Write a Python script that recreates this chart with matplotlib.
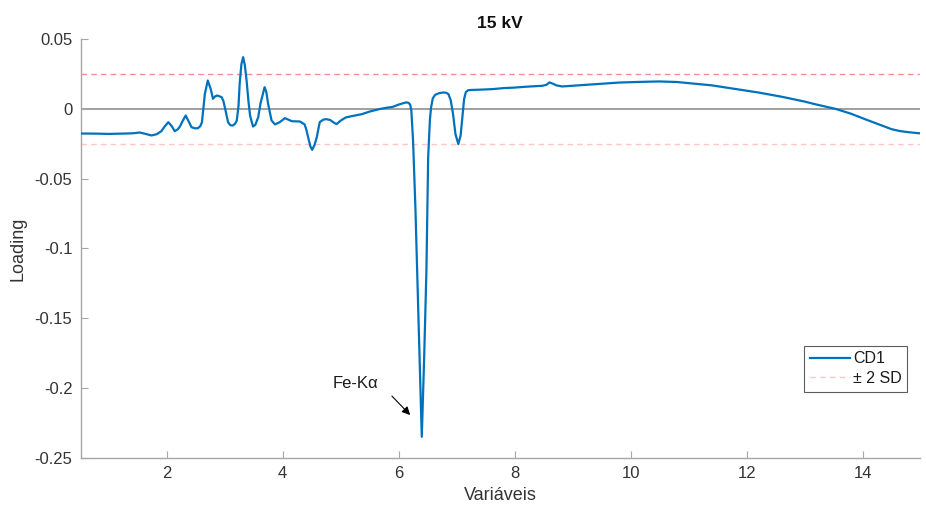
import matplotlib
matplotlib.use("Agg")
import matplotlib.pyplot as plt

plt.rcParams['font.family'] = ['Liberation Sans', 'DejaVu Sans']

# Data
energy = [0.52, 0.8, 1.0, 1.2, 1.4, 1.54, 1.64, 1.74, 1.83, 1.91, 1.97, 2.03, 2.09,
          2.14, 2.19, 2.23, 2.28, 2.33, 2.38, 2.43, 2.49, 2.54, 2.58, 2.61, 2.66,
          2.71, 2.76, 2.80, 2.84, 2.87, 2.91, 2.95, 2.98, 3.01, 3.06, 3.10, 3.14,
          3.18, 3.21, 3.24, 3.26, 3.29, 3.32, 3.35, 3.38, 3.41, 3.44, 3.49, 3.53,
          3.58, 3.62, 3.66, 3.69, 3.72, 3.75, 3.81, 3.87, 3.95, 4.04, 4.10, 4.16,
          4.30, 4.38, 4.41, 4.44, 4.48, 4.51, 4.55, 4.59, 4.64, 4.70, 4.75, 4.82,
          4.88, 4.93, 5.00, 5.09, 5.20, 5.37, 5.50, 5.67, 5.80, 5.90, 6.00, 6.08,
          6.13, 6.17, 6.20, 6.22, 6.25, 6.29, 6.32, 6.37, 6.40, 6.44, 6.48, 6.51,
          6.54, 6.56, 6.59, 6.63, 6.70, 6.77, 6.82, 6.86, 6.90, 6.94, 6.98, 7.03,
          7.07, 7.10, 7.13, 7.16, 7.20, 7.25, 7.40, 7.62, 7.80, 8.00, 8.19, 8.48,
          8.55, 8.60, 8.66, 8.72, 8.82, 9.00, 9.45, 9.80, 10.10, 10.49, 10.80,
          11.00, 11.40, 11.75, 12.2, 12.61, 13.0, 13.18, 13.53, 13.8, 14.04, 14.3,
          14.50, 14.65, 14.8, 14.99]
loading_cd1 = [-0.0177, -0.0178, -0.0180, -0.0178, -0.0176, -0.0170, -0.0180, -0.0191,
               -0.0182, -0.0160, -0.0125, -0.0096, -0.0125, -0.0160, -0.0148, -0.0127,
               -0.0085, -0.0048, -0.0090, -0.0132, -0.0140, -0.0139, -0.0125, -0.0096,
               0.0107, 0.0203, 0.0143, 0.0072, 0.0090, 0.0095, 0.0090, 0.0083, 0.0055,
               0.0000, -0.0096, -0.0118, -0.0120, -0.0108, -0.0084, 0.0020, 0.0179,
               0.0320, 0.0370, 0.0310, 0.0200, 0.0060, -0.0050, -0.0127, -0.0115,
               -0.0060, 0.0040, 0.0107, 0.0155, 0.0120, 0.0036, -0.0084, -0.0112,
               -0.0096, -0.0067, -0.0078, -0.0089, -0.0091, -0.0112, -0.0150, -0.0203,
               -0.0270, -0.0294, -0.0260, -0.0203, -0.0096, -0.0078, -0.0074, -0.0080,
               -0.0098, -0.0110, -0.0085, -0.0062, -0.0052, -0.0038, -0.0020, -0.0002,
               0.0008, 0.0014, 0.0030, 0.0040, 0.0046, 0.0043, 0.0030, -0.0014,
               -0.0230, -0.0707, -0.1160, -0.1920, -0.2350, -0.1800, -0.1160, -0.0349,
               -0.0080, 0.0009, 0.0075, 0.0100, 0.0112, 0.0117, 0.0115, 0.0105,
               0.0060, -0.0040, -0.0180, -0.0253, -0.0190, -0.0060, 0.0070, 0.0120,
               0.0133, 0.0135, 0.0137, 0.0141, 0.0148, 0.0152, 0.0158, 0.0165, 0.0172,
               0.0189, 0.0180, 0.0168, 0.0160, 0.0165, 0.0177, 0.0188, 0.0192, 0.0196,
               0.0192, 0.0184, 0.0168, 0.0146, 0.0117, 0.0086, 0.0052, 0.0033, 0.0000,
               -0.0035, -0.0074, -0.0115, -0.0146, -0.0160, -0.0168, -0.0176]
sd_limit = 0.025
x_ticks = [2, 4, 6, 8, 10, 12, 14]
y_ticks = [-0.25, -0.2, -0.15, -0.1, -0.05, 0, 0.05]
y_tick_labels = ['-0.25', '-0.2', '-0.15', '-0.1', '-0.05', '0', '0.05']

fig = plt.figure(figsize=(9.26, 5.12), dpi=100)
ax = fig.add_axes([0.0872, 0.106, 0.9063, 0.8178])

ax.axhline(0, color='#999999', linewidth=1.3, zorder=1)
ax.axhline(sd_limit, color='#f29090', linestyle=(0, (4, 3)), linewidth=1.0, zorder=1)
ax.plot(energy, loading_cd1, color='#0072BD', linewidth=1.6, label='CD1', zorder=3,
        solid_joinstyle='round')
ax.axhline(-sd_limit, color='#ffc4c4', linestyle=(0, (4, 3)), linewidth=1.0,
           zorder=1, label='± 2 SD')

ax.set_xlim(min(energy), max(energy))
ax.set_ylim(-0.25, 0.05)
ax.set_xticks(x_ticks)
ax.set_yticks(y_ticks)
ax.set_yticklabels(y_tick_labels)

for s in ['top', 'right']:
    ax.spines[s].set_visible(False)
for s in ['left', 'bottom']:
    ax.spines[s].set_color('#a6a6a6')
    ax.spines[s].set_linewidth(1.0)
ax.tick_params(direction='in', length=5, width=0.8, color='#a6a6a6',
               labelsize=12, labelcolor='#333333', pad=6)

ax.set_title('15 kV', fontsize=12.5, fontweight='bold', color='#111111', pad=8)
ax.set_xlabel('Variáveis', fontsize=13, color='#333333', labelpad=4)
ax.set_ylabel('Loading', fontsize=13, color='#333333', labelpad=6)

ax.text(5.25, -0.197, 'Fe-Kα', fontsize=12, color='#1a1a1a', ha='center', va='center')
ax.annotate('', xy=(6.2, -0.2194), xytext=(5.885, -0.2058),
            arrowprops=dict(arrowstyle='-|>', color='black', lw=0.8,
                            mutation_scale=12, shrinkA=0, shrinkB=0))

leg = ax.legend(loc='lower right', bbox_to_anchor=(0.985, 0.158), fontsize=11.5,
                frameon=True, fancybox=False, handlelength=2.5, borderpad=0.35,
                labelspacing=0.3, handletextpad=0.2, borderaxespad=0)
leg.get_frame().set_edgecolor('#333333')
leg.get_frame().set_linewidth(0.8)
for t in leg.get_texts():
    t.set_color('#1a1a1a')

fig.savefig('out.png', dpi=100, facecolor='white')
